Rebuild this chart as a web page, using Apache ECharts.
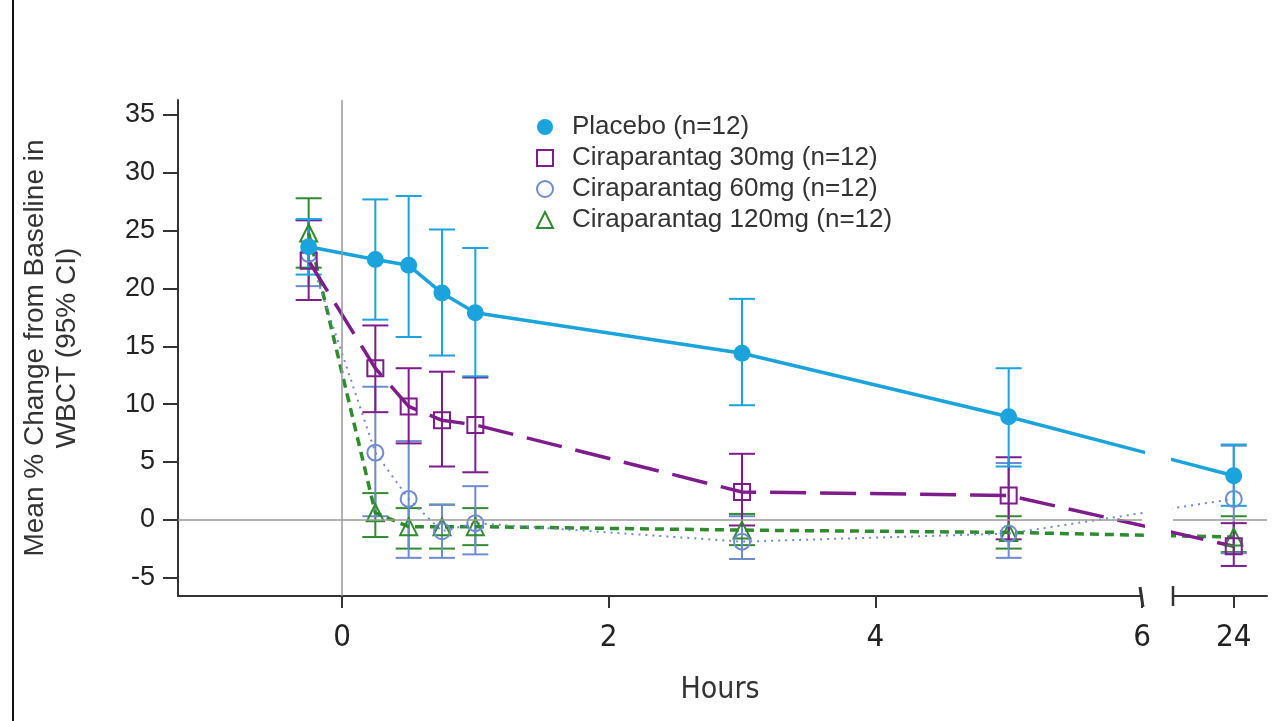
<!DOCTYPE html>
<html>
<head>
<meta charset="utf-8">
<title>WBCT change</title>
<script src="https://cdn.jsdelivr.net/npm/echarts@6.0.0/dist/echarts.min.js"></script>
<style>
	html, body { margin: 0; padding: 0; background: #fff; }
	#main { width: 1280px; height: 721px; }
</style>
</head>
<body>
<div id="main"></div>
<script>
// time points (hours); 24 h sits after the axis break
var hours = [-0.25, 0.25, 0.5, 0.75, 1, 3, 5, 24];
var xTicks = [0, 2, 4, 6];
var xTicks2 = [24];
var yTicks = [-5, 0, 5, 10, 15, 20, 25, 30, 35];

var names = ["Placebo (n=12)", "Ciraparantag 30mg (n=12)", "Ciraparantag 60mg (n=12)", "Ciraparantag 120mg (n=12)"];

var placeboMean = [23.6, 22.5, 22.0, 19.6, 17.9, 14.4, 8.9, 3.8];
var placeboLo   = [21.2, 17.3, 15.8, 14.2, 12.4, 9.9, 4.6, 1.2];
var placeboHi   = [26.0, 27.7, 28.0, 25.1, 23.5, 19.1, 13.1, 6.5];

var mg30Mean = [22.4, 13.1, 9.8, 8.6, 8.2, 2.4, 2.1, -2.3];
var mg30Lo   = [19.0, 9.3, 6.6, 4.6, 4.1, -0.5, -1.7, -4.0];
var mg30Hi   = [25.9, 16.8, 13.1, 12.8, 12.3, 5.7, 5.4, -0.3];

var mg60Mean = [23.0, 5.8, 1.8, -1.0, -0.3, -1.9, -1.2, 1.8];
var mg60Lo   = [20.2, 0.3, -3.3, -3.3, -3.0, -3.4, -3.3, -2.9];
var mg60Hi   = [25.9, 11.5, 6.8, 1.3, 2.9, 0.3, 4.9, 6.4];

var mg120Mean = [24.8, 0.6, -0.6, -0.6, -0.6, -0.9, -1.1, -1.5];
var mg120Lo   = [21.8, -1.5, -2.5, -2.5, -2.2, -2.2, -2.5, -2.8];
var mg120Hi   = [27.8, 2.3, 1.0, 1.3, 1.0, 0.5, 0.3, 0.3];

var colors = ["#1aa3dc", "#7e1c8c", "#6f8bd0", "#2e8b2e"];

// axis break: everything after 6 h is squeezed, 24 h drawn 0.69 units past 6
var breakAt = 6, breakEnd = 24, breakGap = 0.69;
function xPos(h) {
	return h <= breakAt ? h : breakAt + breakGap + (h - breakEnd);
}
function xLabel(v) {
	return v <= breakAt ? String(Math.round(v)) : String(Math.round(v - breakAt - breakGap + breakEnd));
}

var xMin = -1.23, xMax1 = 6, xMin2 = 6.233, xMax2 = 6.94;
var yMin = -6.6, yMax = 36.3;

function lineData(mean) {
	return hours.map(function (h, i) { return [xPos(h), mean[i]]; });
}
function errData(lo, hi, first) {
	var out = [];
	hours.forEach(function (h, i) {
		if ((h <= breakAt) === first) out.push([xPos(h), lo[i], hi[i]]);
	});
	return out;
}
function errRender(color) {
	return function (params, api) {
		var top = api.coord([api.value(0), api.value(2)]);
		var bot = api.coord([api.value(0), api.value(1)]);
		var w = 13;
		var st = { stroke: color, lineWidth: 2 };
		return {
			type: "group",
			children: [
				{ type: "line", shape: { x1: top[0], y1: top[1], x2: bot[0], y2: bot[1] }, style: st },
				{ type: "line", shape: { x1: top[0] - w, y1: top[1], x2: top[0] + w, y2: top[1] }, style: st },
				{ type: "line", shape: { x1: bot[0] - w, y1: bot[1], x2: bot[0] + w, y2: bot[1] }, style: st }
			]
		};
	};
}

var groups = [
	{ mean: placeboMean, lo: placeboLo, hi: placeboHi, symbol: "circle", size: 17, filled: true, width: 3.5, dash: "solid" },
	{ mean: mg30Mean, lo: mg30Lo, hi: mg30Hi, symbol: "rect", size: 16, filled: false, width: 3.5, dash: [36, 14] },
	{ mean: mg60Mean, lo: mg60Lo, hi: mg60Hi, symbol: "circle", size: 16, filled: false, width: 2, dash: [2, 5] },
	{ mean: mg120Mean, lo: mg120Lo, hi: mg120Hi, symbol: "triangle", size: 17, filled: false, width: 3.5, dash: [9, 6] }
];

var series = [];
var bars = [];
// draw 120mg first, placebo last (on top)
for (var k = groups.length - 1; k >= 0; k--) {
	var g = groups[k];
	var itemSt = {
		color: g.filled ? colors[k] : "rgba(255,255,255,0)",
		borderColor: colors[k],
		borderWidth: g.filled ? 0 : 2
	};
	for (var gi = 0; gi < 2; gi++) {
		series.push({
			name: names[k],
			type: "line",
			xAxisIndex: gi, yAxisIndex: gi,
			data: lineData(g.mean),
			symbol: g.symbol,
			symbolSize: g.size,
			showAllSymbol: true,
			clip: true,
			lineStyle: { color: colors[k], width: g.width, type: g.dash },
			itemStyle: itemSt,
			z: 3
		});
		bars.push({
			name: names[k],
			type: "custom",
			xAxisIndex: gi, yAxisIndex: gi,
			renderItem: errRender(colors[k]),
			data: errData(g.lo, g.hi, gi === 0),
			itemStyle: itemSt,
			silent: true,
			z: 2
		});
	}
}
series = series.concat(bars);

// zero reference lines
series.push({
	type: "line", xAxisIndex: 0, yAxisIndex: 0, data: [], silent: true,
	markLine: {
		silent: true, symbol: "none", label: { show: false },
		lineStyle: { color: "#999", width: 1.5, type: "solid" },
		data: [{ yAxis: 0 }, { xAxis: 0 }]
	}
});
series.push({
	type: "line", xAxisIndex: 1, yAxisIndex: 1, data: [], silent: true,
	markLine: {
		silent: true, symbol: "none", label: { show: false },
		lineStyle: { color: "#999", width: 1.5, type: "solid" },
		data: [{ yAxis: 0 }]
	}
});

var axisLineStyle = { color: "#333", width: 2 };
var narrow = "'Liberation Sans Narrow', 'DejaVu Sans Condensed', 'Liberation Sans'";
var xLabelFont = { fontFamily: narrow, fontSize: 31, color: "#222" };
var yLabelFont = { fontFamily: "Liberation Sans", fontSize: 27, color: "#222" };

var option = {
	animation: false,
	backgroundColor: "#fff",
	textStyle: { fontFamily: "Liberation Sans" },
	grid: [
		{ left: 178, right: 138, top: 100, bottom: 125 },
		{ left: 1173, right: 13, top: 100, bottom: 125 }
	],
	legend: {
		orient: "vertical",
		left: 531, top: 109,
		itemWidth: 16, itemHeight: 16,
		itemGap: 5,
		selectedMode: false,
		textStyle: { fontFamily: "Liberation Sans", fontSize: 26, color: "#333", padding: [0, 0, 0, 14] },
		data: [
			{ name: names[0], icon: "circle" },
			{ name: names[1], icon: "rect" },
			{ name: names[2], icon: "circle" },
			{ name: names[3], icon: "triangle" }
		]
	},
	xAxis: [
		{
			type: "value", gridIndex: 0, min: xMin, max: xMax1,
			axisLine: { onZero: false, lineStyle: axisLineStyle },
			axisTick: { length: 12, lineStyle: axisLineStyle, customValues: xTicks },
			axisLabel: Object.assign({ margin: 26, customValues: xTicks, formatter: xLabel }, xLabelFont),
			splitLine: { show: false }
		},
		{
			type: "value", gridIndex: 1, min: xMin2, max: xMax2,
			axisLine: { onZero: false, lineStyle: axisLineStyle },
			axisTick: { length: 12, lineStyle: axisLineStyle, customValues: xTicks2.map(xPos) },
			axisLabel: Object.assign({ margin: 26, customValues: xTicks2.map(xPos), formatter: xLabel }, xLabelFont),
			splitLine: { show: false }
		}
	],
	yAxis: [
		{
			type: "value", gridIndex: 0, min: yMin, max: yMax,
			name: "Mean % Change from Baseline in\nWBCT (95% CI)",
			nameLocation: "middle",
			nameGap: 95,
			nameTextStyle: { fontFamily: "Liberation Sans", fontSize: 28, color: "#333", lineHeight: 32 },
			axisLine: { show: true, onZero: false, lineStyle: axisLineStyle },
			axisTick: { show: true, length: 15, lineStyle: axisLineStyle, customValues: yTicks },
			axisLabel: Object.assign({ margin: 23, customValues: yTicks }, yLabelFont),
			splitLine: { show: false }
		},
		{
			type: "value", gridIndex: 1, min: yMin, max: yMax,
			axisLine: { show: false, onZero: false }, axisTick: { show: false },
			axisLabel: { show: false }, splitLine: { show: false }
		}
	],
	series: series
};

var myChart = echarts.init(document.getElementById("main"));
myChart.setOption(option);

// break marks, frame line and the x axis title
var p1 = myChart.convertToPixel({ gridIndex: 0 }, [xMax1, yMin]);
var p2 = myChart.convertToPixel({ gridIndex: 1 }, [xMin2, yMin]);
myChart.setOption({
	graphic: [
		{ type: "line", shape: { x1: p1[0] - 2, y1: p1[1] - 9, x2: p1[0] + 1, y2: p1[1] + 11 }, style: { stroke: "#333", lineWidth: 3 } },
		{ type: "line", shape: { x1: p2[0], y1: p2[1] - 10, x2: p2[0], y2: p2[1] + 10 }, style: { stroke: "#333", lineWidth: 2.5 } },
		{ type: "line", shape: { x1: 13, y1: 0, x2: 13, y2: 721 }, style: { stroke: "#111", lineWidth: 2 } },
		{ type: "text", x: 720, y: 690, style: { text: "Hours", fontFamily: narrow, fontSize: 30, fill: "#333", align: "center", verticalAlign: "middle" } }
	]
});
</script>
</body>
</html>
